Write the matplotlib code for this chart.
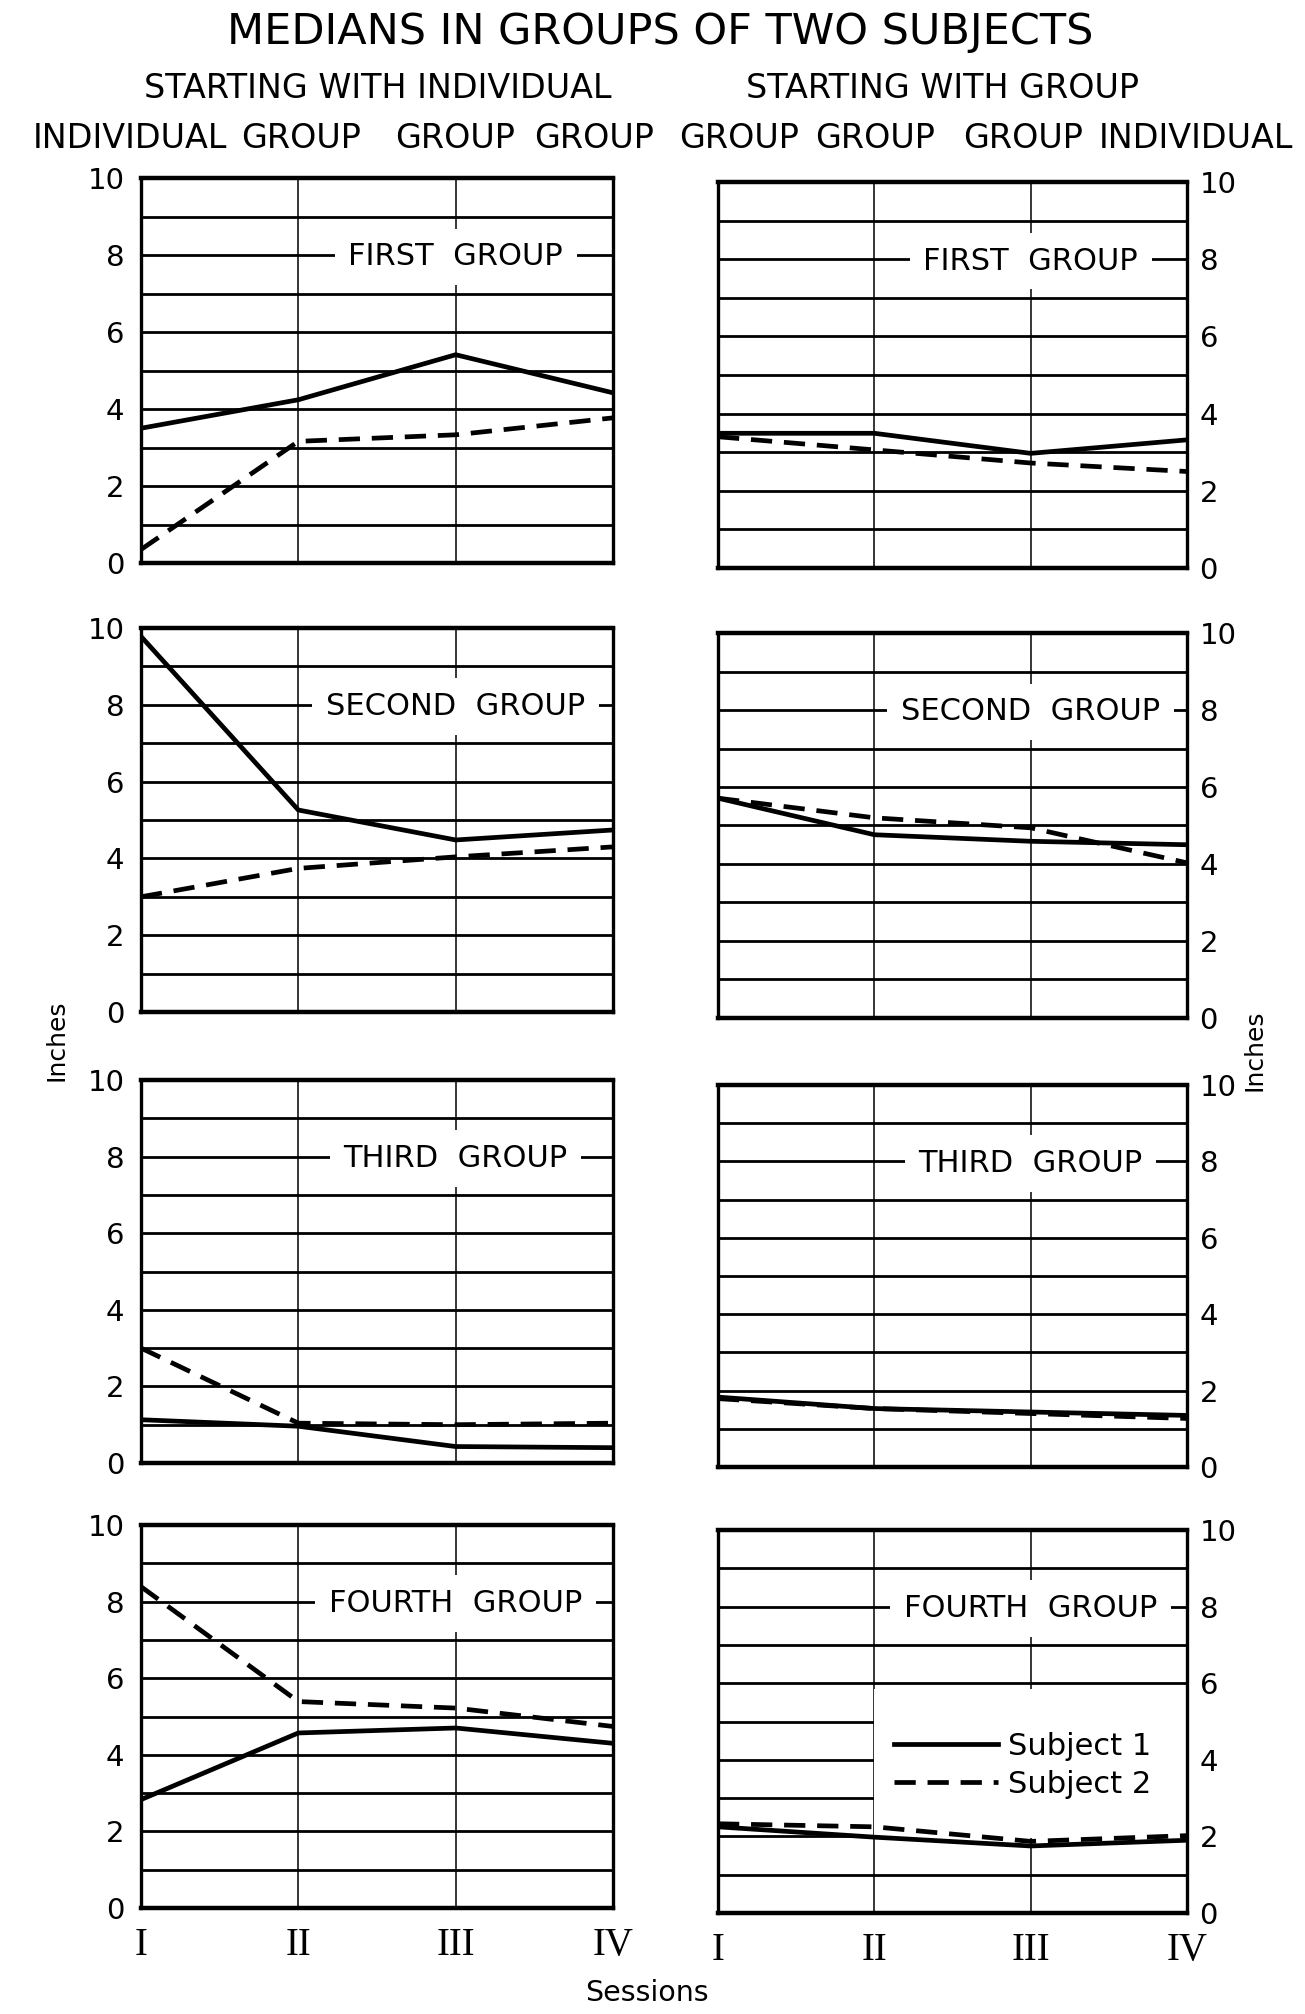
import numpy as np
import matplotlib
matplotlib.use('Agg')
import matplotlib.pyplot as plt
from matplotlib.patches import Rectangle

# ---------------- data ----------------
sessions = ['I', 'II', 'III', 'IV']
group_names = ['FIRST  GROUP', 'SECOND  GROUP', 'THIRD  GROUP', 'FOURTH  GROUP']
legend_labels = ['Subject 1', 'Subject 2']

# Left column: starting with individual (rows = first..fourth group)
ind_subject1 = [[3.50, 4.24, 5.41, 4.42],
                [9.78, 5.26, 4.48, 4.74],
                [1.13, 0.96, 0.43, 0.40],
                [2.83, 4.57, 4.70, 4.30]]
ind_subject2 = [[0.35, 3.16, 3.33, 3.77],
                [3.00, 3.74, 4.04, 4.30],
                [3.00, 1.04, 1.00, 1.04],
                [8.39, 5.39, 5.22, 4.74]]

# Right column: starting with group
grp_subject1 = [[3.49, 3.49, 2.97, 3.32],
                [5.71, 4.76, 4.59, 4.50],
                [1.83, 1.53, 1.44, 1.35],
                [2.25, 1.98, 1.75, 1.90]]
grp_subject2 = [[3.40, 3.06, 2.72, 2.50],
                [5.71, 5.20, 4.94, 4.03],
                [1.79, 1.53, 1.40, 1.27],
                [2.33, 2.25, 1.87, 2.02]]

title = 'MEDIANS IN GROUPS OF TWO SUBJECTS'
col_titles = ['STARTING WITH INDIVIDUAL', 'STARTING WITH GROUP']
cond_words = ['INDIVIDUAL', 'GROUP', 'GROUP', 'GROUP',
              'GROUP', 'GROUP', 'GROUP', 'INDIVIDUAL']

# ---------------- figure ----------------
plt.rcParams['font.family'] = ['DejaVu Sans']
W, H = 1305, 2014
fig = plt.figure(figsize=(W / 100, H / 100), dpi=100)
fig.patch.set_facecolor('white')


def px_axes(x0, y0, x1, y1):
    return fig.add_axes([x0 / W, 1 - y1 / H, (x1 - x0) / W, (y1 - y0) / H])


left_x = (141, 613)
right_x = (718, 1187)
left_rows = [(178, 563), (628, 1012), (1080, 1463), (1525, 1908)]
right_rows = [(182, 568), (633, 1018), (1085, 1467), (1530, 1913)]

xs = np.arange(len(sessions))
tick_fs = 21
label_fs = 22


def style_axes(ax, side, bottom_row):
    ax.set_xlim(0, 3)
    ax.set_ylim(0, 10)
    ax.set_yticks([0, 2, 4, 6, 8, 10])
    ax.set_yticks([1, 3, 5, 7, 9], minor=True)
    ax.set_xticks(xs)
    ax.set_axisbelow(True)
    ax.grid(axis='y', which='both', color='black', lw=2.0)
    ax.grid(axis='x', which='major', color='black', lw=1.1)
    ax.tick_params(which='both', length=0)
    for s in ['top', 'bottom']:
        ax.spines[s].set_linewidth(3.2)
    for s in ['left', 'right']:
        ax.spines[s].set_linewidth(2.4)
    if side == 'left':
        ax.tick_params(axis='y', labelsize=tick_fs, pad=12)
    else:
        ax.yaxis.tick_right()
        ax.tick_params(axis='y', labelsize=tick_fs, pad=9)
    if bottom_row:
        ax.set_xticklabels(sessions, fontsize=28, family=['Liberation Serif', 'DejaVu Serif'])
        ax.tick_params(axis='x', pad=14)
    else:
        ax.tick_params(axis='x', labelbottom=False)


for col, (xr, rows, s1, s2) in enumerate([(left_x, left_rows, ind_subject1, ind_subject2),
                                          (right_x, right_rows, grp_subject1, grp_subject2)]):
    for r in range(4):
        ax = px_axes(xr[0], rows[r][0], xr[1], rows[r][1])
        style_axes(ax, 'left' if col == 0 else 'right', r == 3)
        ax.text(2.0, 7.95, group_names[r], ha='center', va='center', fontsize=label_fs,
                zorder=2, bbox=dict(boxstyle='square,pad=0.45', fc='white', ec='none'))
        l1, = ax.plot(xs, s1[r], color='black', lw=3.4, zorder=3, solid_joinstyle='miter')
        l2, = ax.plot(xs, s2[r], color='black', lw=3.4, dashes=(4.5, 2.5), zorder=3)
        if col == 1 and r == 3:
            ax.add_patch(Rectangle((1.0, 1.95), 2.0, 3.9, fc='white', ec='none', zorder=1.5))
            leg = ax.legend([l1, l2], legend_labels, loc='center left',
                            bbox_to_anchor=(0.375, 0.385), frameon=False, fontsize=label_fs,
                            handlelength=3.4, handletextpad=0.35, labelspacing=0.3,
                            borderaxespad=0, borderpad=0)
            leg.set_zorder(4)

# ---------------- texts ----------------
fig.text(660 / W, 1 - 32 / H, title, ha='center', va='center', fontsize=31)
fig.text(378 / W, 1 - 89 / H, col_titles[0], ha='center', va='center', fontsize=24)
fig.text(943 / W, 1 - 89 / H, col_titles[1], ha='center', va='center', fontsize=24)
word_x = [130, 301, 455, 594, 739, 875, 1023, 1196]
for wx, w in zip(word_x, cond_words):
    fig.text(wx / W, 1 - 138 / H, w, ha='center', va='center', fontsize=24)

fig.text(57 / W, 1 - 1040 / H, 'Inches', rotation=90, ha='center', va='center', fontsize=18)
fig.text(1255 / W, 1 - 1050 / H, 'Inches', rotation=90, ha='center', va='center', fontsize=18)
fig.text(647 / W, 1 - 1993 / H, 'Sessions', ha='center', va='center', fontsize=20.5)

fig.savefig('out.png', dpi=100, facecolor='white')
